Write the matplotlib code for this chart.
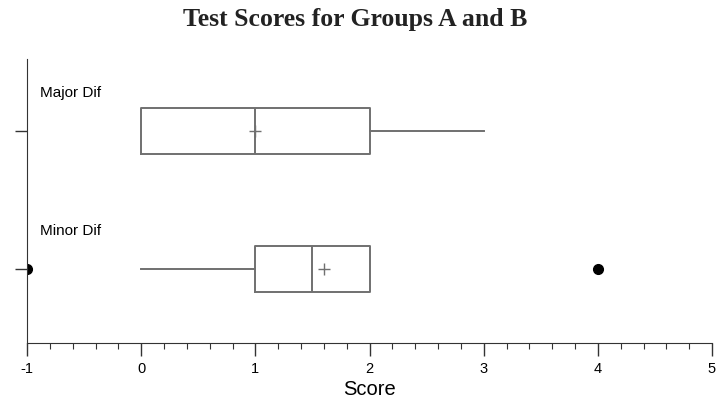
import matplotlib
matplotlib.use("Agg")
import matplotlib.pyplot as plt
from matplotlib.ticker import MultipleLocator

plt.rcParams["axes.unicode_minus"] = False

# data
groups = ["Minor Dif", "Major Dif"]
q1 = [1.0, 0.0]
med = [1.5, 1.0]
q3 = [2.0, 2.0]
whislo = [0.0, 0.0]
whishi = [2.0, 3.0]
means = [1.6, 1.0]
fliers = [[-1.0, 4.0], []]

stats = []
for i in range(len(groups)):
    stats.append(dict(label=groups[i], q1=q1[i], med=med[i], q3=q3[i],
                      whislo=whislo[i], whishi=whishi[i], mean=means[i],
                      fliers=fliers[i]))

fig = plt.figure(figsize=(7.27, 4.06), dpi=100)
ax = fig.add_axes([27 / 727, 1 - 344 / 406, 685 / 727, 284 / 406])

gray = "#707070"
ax.bxp(stats, positions=[0, 1], vert=False, widths=0.333, showmeans=True,
       showcaps=False, patch_artist=False,
       boxprops=dict(color=gray, linewidth=1.4),
       whiskerprops=dict(color=gray, linewidth=1.4),
       medianprops=dict(color=gray, linewidth=1.4),
       meanprops=dict(marker="+", markeredgecolor=gray, markersize=8,
                      markeredgewidth=1.0),
       flierprops=dict(marker="o", markerfacecolor="black",
                       markeredgecolor="black", markersize=7),
       manage_ticks=False)

ax.set_xlim(-1, 5)
ax.set_ylim(-0.536, 1.522)
ax.xaxis.set_major_locator(MultipleLocator(1))
ax.xaxis.set_minor_locator(MultipleLocator(0.2))
ax.set_yticks([0, 1])
ax.set_yticklabels([])
ax.tick_params(axis="x", which="major", length=9, width=1.0, color="#333333",
               labelsize=10.5, pad=4)
ax.tick_params(axis="x", which="minor", length=4.5, width=0.8, color="#333333")
ax.tick_params(axis="y", length=9, width=1.0, color="#333333")
for lab in ax.get_xticklabels():
    lab.set_family("Liberation Sans")

ax.spines["top"].set_visible(False)
ax.spines["right"].set_visible(False)
ax.spines["left"].set_color("#333333")
ax.spines["bottom"].set_color("#333333")

ax.text(-0.89, 1.28, "Major Dif", fontsize=11, family="Liberation Sans",
        va="center", ha="left")
ax.text(-0.89, 0.28, "Minor Dif", fontsize=11, family="Liberation Sans",
        va="center", ha="left")

ax.set_xlabel("Score", fontsize=14.5, family="Liberation Sans", labelpad=3)
fig.text(0.489, 1 - 26 / 406, "Test Scores for Groups A and B", ha="center",
         va="baseline", fontsize=18.5, fontweight="bold",
         family="Liberation Serif", color="#222222")

fig.savefig("out.png", dpi=100)
